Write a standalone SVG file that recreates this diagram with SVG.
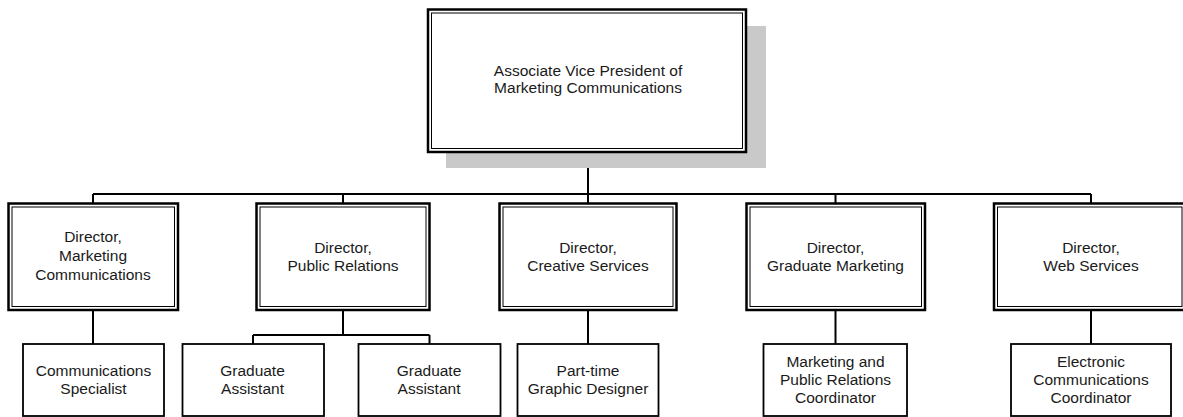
<svg xmlns="http://www.w3.org/2000/svg" width="1183" height="417" viewBox="0 0 1183 417">
<style>
  .outer { fill: #ffffff; stroke: #000000; stroke-width: 2.5; }
  .inner { fill: none; stroke: #000000; stroke-width: 1; }
  .sub { fill: #ffffff; stroke: #000000; stroke-width: 1.8; }
  .shadow { fill: #c9c9c9; stroke: none; }
  .conn { fill: none; stroke: #000000; stroke-width: 2; }
  text { font-family: "Liberation Sans", Arial, sans-serif; font-size: 15.5px; fill: #1a1a1a; text-anchor: middle; }
</style>
<rect x="0" y="0" width="1183" height="417" fill="#ffffff"/>

<g id="connectors">
  <path class="conn" d="M588,153 V194"/>
  <path class="conn" d="M93,194 H1091"/>
  <path class="conn" d="M93,194 V203 M343,194 V203 M588,194 V203 M835.5,194 V203 M1091,194 V203"/>
  <path class="conn" d="M93,310 V344"/>
  <path class="conn" d="M343,310 V335 M253,335 H429.5 M253,335 V344 M429.5,335 V344"/>
  <path class="conn" d="M588,310 V344"/>
  <path class="conn" d="M835.5,310 V344"/>
  <path class="conn" d="M1091,310 V344"/>
</g>

<g id="avp">
  <rect class="shadow" x="446" y="26" width="320" height="142"/>
  <rect class="outer" x="428" y="9.5" width="318" height="142.5"/>
  <rect class="inner" x="431.5" y="13" width="311" height="135.5"/>
  <text x="588" y="76">Associate Vice President of</text>
  <text x="588" y="92.5">Marketing Communications</text>
</g>

<g id="dir-marketing">
  <rect class="outer" x="8.5" y="203.5" width="169.5" height="106.5"/>
  <rect class="inner" x="12" y="207" width="162.5" height="99.5"/>
  <text x="93" y="242">Director,</text>
  <text x="93" y="260.7">Marketing</text>
  <text x="93" y="279.5">Communications</text>
</g>

<g id="dir-pr">
  <rect class="outer" x="256.5" y="203.5" width="173" height="106.5"/>
  <rect class="inner" x="260" y="207" width="166" height="99.5"/>
  <text x="343" y="252.7">Director,</text>
  <text x="343" y="271">Public Relations</text>
</g>

<g id="dir-creative">
  <rect class="outer" x="499.5" y="203.5" width="177" height="106.5"/>
  <rect class="inner" x="503" y="207" width="170" height="99.5"/>
  <text x="588" y="252.7">Director,</text>
  <text x="588" y="271">Creative Services</text>
</g>

<g id="dir-graduate">
  <rect class="outer" x="746.5" y="203.5" width="178.5" height="106.5"/>
  <rect class="inner" x="750" y="207" width="171.5" height="99.5"/>
  <text x="835.5" y="252.7">Director,</text>
  <text x="835.5" y="271">Graduate Marketing</text>
</g>

<g id="dir-web">
  <rect class="outer" x="994" y="203.5" width="194" height="106.5"/>
  <rect class="inner" x="997.5" y="207" width="184.5" height="99.5"/>
  <text x="1091" y="252.7">Director,</text>
  <text x="1091" y="271">Web Services</text>
</g>

<g id="comm-specialist">
  <rect class="sub" x="23" y="344" width="141" height="72"/>
  <text x="93.5" y="375.7">Communications</text>
  <text x="93.5" y="394.3">Specialist</text>
</g>

<g id="grad-assistant-1">
  <rect class="sub" x="182.5" y="344" width="141.5" height="72"/>
  <text x="252.5" y="375.7">Graduate</text>
  <text x="252.5" y="394.3">Assistant</text>
</g>

<g id="grad-assistant-2">
  <rect class="sub" x="358.5" y="344" width="142" height="72"/>
  <text x="429" y="375.7">Graduate</text>
  <text x="429" y="394.3">Assistant</text>
</g>

<g id="graphic-designer">
  <rect class="sub" x="517.5" y="344" width="141" height="72"/>
  <text x="588" y="375.7">Part-time</text>
  <text x="588" y="394.3">Graphic Designer</text>
</g>

<g id="mpr-coordinator">
  <rect class="sub" x="763.5" y="344" width="143.5" height="72"/>
  <text x="835.5" y="366.7">Marketing and</text>
  <text x="835.5" y="384.8">Public Relations</text>
  <text x="835.5" y="403">Coordinator</text>
</g>

<g id="ec-coordinator">
  <rect class="sub" x="1011" y="344" width="160" height="72"/>
  <text x="1091" y="366.7">Electronic</text>
  <text x="1091" y="384.8">Communications</text>
  <text x="1091" y="403">Coordinator</text>
</g>
</svg>
